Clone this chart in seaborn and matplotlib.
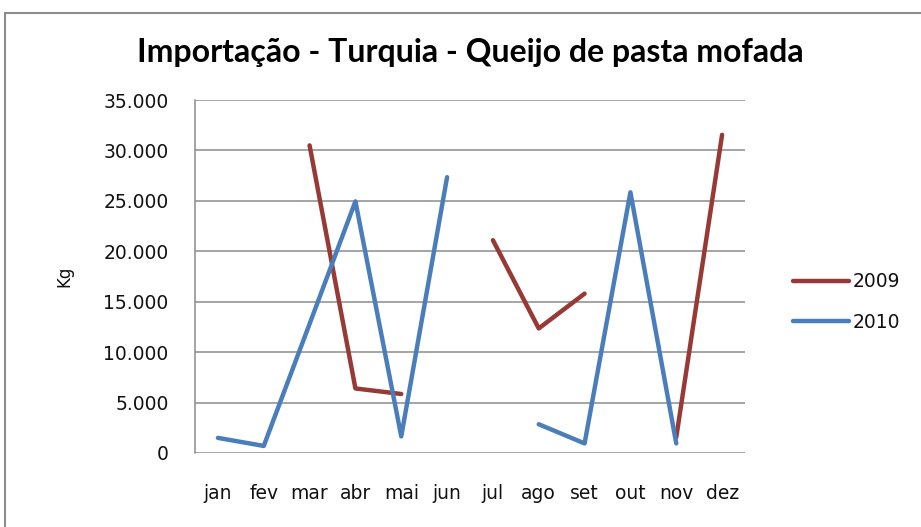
import numpy as np
import pandas as pd
import matplotlib
matplotlib.use('Agg')
import matplotlib.pyplot as plt
import seaborn as sns
from matplotlib.ticker import FuncFormatter, MultipleLocator
from matplotlib.patches import Rectangle

# ----------------- dados -----------------
meses = ['jan', 'fev', 'mar', 'abr', 'mai', 'jun', 'jul', 'ago', 'set', 'out', 'nov', 'dez']
kg_2009 = [np.nan, np.nan, 30500, 6400, 5850, np.nan, 21100, 12350, 15800, np.nan, 1550, 31550]
kg_2010 = [1500, 700, 12800, 24950, 1650, 27350, np.nan, 2850, 950, 25850, 950, np.nan]
anos = ['2009', '2010']
cores = {'2009': '#973A36', '2010': '#4A7EBB'}

# formato longo, com um id de segmento para quebrar a linha nos meses sem dados
linhas = []
for ano, vals in zip(anos, [kg_2009, kg_2010]):
    seg = 0
    for i, v in enumerate(vals):
        if np.isnan(v):
            seg += 1
            continue
        linhas.append({'pos': i, 'kg': v, 'ano': ano, 'seg': f'{ano}-{seg}'})
df = pd.DataFrame(linhas)

sns.set_style('white')
plt.rcParams['font.family'] = ['DejaVu Sans']
plt.rcParams['text.color'] = '#111111'

fig = plt.figure(figsize=(9.21, 5.27), dpi=100)
ax = fig.add_axes([195 / 921, 74 / 527, 550 / 921, 353 / 527])

sns.lineplot(data=df, x='pos', y='kg', hue='ano', units='seg', estimator=None,
             palette=cores, linewidth=3.2, ax=ax, legend=False, zorder=3)

ax.set_xlim(-0.5, 11.5)
ax.set_ylim(0, 35000)
ax.set_xticks(range(12))
ax.set_xticklabels(meses)
ax.yaxis.set_major_locator(MultipleLocator(5000))
ax.yaxis.set_major_formatter(FuncFormatter(lambda v, p: f'{int(v):,}'.replace(',', '.')))
ax.grid(axis='y', color='#8C8C8C', linewidth=1.1)
ax.set_axisbelow(True)
for s in ['top', 'right', 'bottom']:
    ax.spines[s].set_visible(False)
ax.spines['left'].set_color('#8C8C8C')
ax.spines['left'].set_linewidth(1.1)
ax.tick_params(axis='both', length=0, labelsize=13.5, colors='#111111')
ax.tick_params(axis='y', pad=19)
ax.tick_params(axis='x', pad=22)
ax.set_xlabel('')
ax.set_ylabel('Kg', fontsize=12, color='#111111')
ax.yaxis.set_label_coords((73 - 195) / 550, 0.5)

fig.text(470 / 921, 1 - 62 / 527, 'Importação - Turquia - Queijo de pasta mofada',
         ha='center', va='baseline', fontsize=23, fontweight='bold',
         family=['Lato', 'DejaVu Sans'], color='black')

# legenda
handles = [plt.Line2D([], [], color=cores[a], linewidth=3.2) for a in anos]
fig.legend(handles, anos, loc='center left', bbox_to_anchor=(776 / 921, 1 - 302 / 527),
           frameon=False, fontsize=13.5, handlelength=3.0, handletextpad=0.2,
           labelspacing=1.15)

# moldura do gráfico
fig.patches.append(Rectangle((5 / 921, -0.05), 1.0, 1.05 - 13 / 527,
                             transform=fig.transFigure, fill=False,
                             edgecolor='#8C8C8C', linewidth=1.5))

fig.savefig('out.png', dpi=100)
